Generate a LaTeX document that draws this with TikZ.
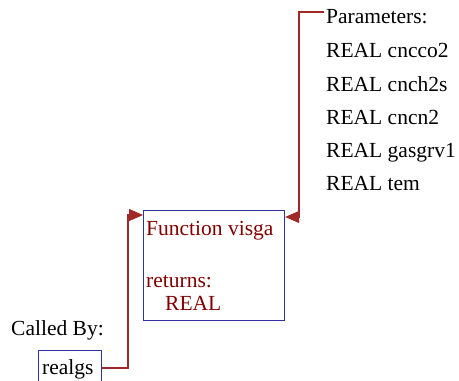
\documentclass[tikz,border=0pt]{standalone}
\usepackage{fontspec}
\setmainfont{Liberation Serif}
\usetikzlibrary{arrows.meta}
\definecolor{boxblue}{RGB}{50,50,160}
\definecolor{txtred}{RGB}{128,0,0}
\definecolor{linered}{RGB}{160,40,40}
\begin{document}
\begin{tikzpicture}[x=1pt,y=-1pt,
  every node/.style={font=\fontsize{21.5}{24}\selectfont, inner sep=0pt},
  lbl/.style={anchor=base west, text=black},
  flbl/.style={anchor=base west, text=txtred},
  fbox/.style={draw=boxblue, line width=1.2pt},
  conn/.style={draw=linered, line width=1.1pt, -{Triangle[length=14pt,width=12pt]}}]
\useasboundingbox (0,0) rectangle (459,381);
% function box
\node[fbox, anchor=north west, minimum width=141pt, minimum height=110pt] (f) at (143,210) {};
\node[flbl] (ft) at (146,235) {Function visga};
\node[flbl] (fr) at (146,287) {returns:};
\node[flbl] (fv) at (165,310) {REAL};
% caller
\node[lbl] (cb) at (11,335) {Called By:};
\node[fbox, anchor=north west, minimum width=63pt, minimum height=36pt] (r) at (38,350) {};
\node[anchor=base west, text=black] (rt) at (42,374) {realgs};
% parameters
\node[lbl] (p0) at (326,23) {Parameters:};
\node[lbl] (p1) at (326,57) {REAL cncco2};
\node[lbl] (p2) at (326,91) {REAL cnch2s};
\node[lbl] (p3) at (326,124) {REAL cncn2};
\node[lbl] (p4) at (326,157) {REAL gasgrv1};
\node[lbl] (p5) at (326,190) {REAL tem};
% connectors
\coordinate (a1) at (128,368);
\coordinate (a2) at (128,215);
\coordinate (b1) at (324,12);
\coordinate (b2) at (299,12);
\coordinate (b3) at (299,217);
\draw[conn] (r.east |- a1) -- (a1) -- (a2) -- (f.west |- a2);
\draw[conn] (b1) -- (b2) -- (b3) -- (f.east |- b3);
\end{tikzpicture}
\end{document}
